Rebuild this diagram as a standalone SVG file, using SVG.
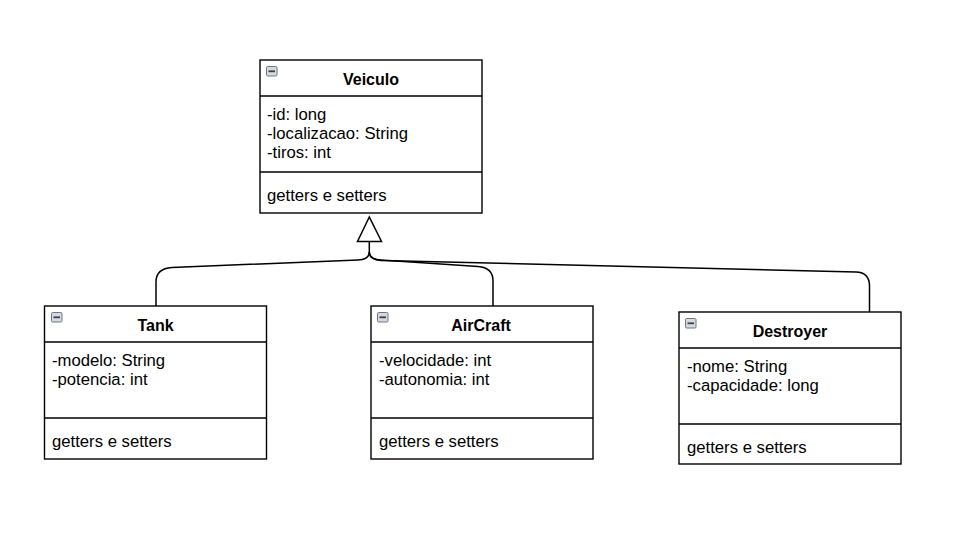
<svg xmlns="http://www.w3.org/2000/svg" width="960" height="538" viewBox="0 0 960 538">
<style>
.box{fill:#fff;stroke:#000;stroke-width:1.4}
.div{stroke:#000;stroke-width:1.4}
.title{font-family:"Liberation Sans",Arial,sans-serif;font-weight:bold;font-size:16px;fill:#000;text-anchor:middle}
.txt{font-family:"Liberation Sans",Arial,sans-serif;font-size:16.7px;fill:#000}
.icon{fill:#d6dae0;stroke:#6f7680;stroke-width:1}
.bar{stroke:#3c4148;stroke-width:1.8}
.conn{fill:none;stroke:#000;stroke-width:1.5}
</style>
<defs>
<g id="ico">
<rect class="icon" x="0.5" y="0.5" width="10.5" height="9.5" rx="1.2"/>
<line class="bar" x1="2.5" y1="5.3" x2="9" y2="5.3"/>
</g>
</defs>
<rect width="960" height="538" fill="#fff"/>
<g id="connectors">
<path class="conn" d="M369.3,241 V252 Q369.3,259.5 358,260 L172,267.5 Q156,268.5 156,282 V306"/>
<path class="conn" d="M369.3,252 Q369.3,259.5 381,260 L478,266.5 Q493,267.5 493,281 V306"/>
<path class="conn" d="M369.3,252 Q369.3,259.5 381,260.5 L856,272 Q869.5,272.5 869.5,286 V312"/>
<path class="conn" style="fill:#fff" d="M369.3,217 L357.5,241.5 L381.5,241.5 Z"/>
</g>
<g id="Veiculo">
<rect class="box" x="260" y="60" width="222" height="153"/>
<line class="div" x1="260" y1="96" x2="482" y2="96"/>
<line class="div" x1="260" y1="172" x2="482" y2="172"/>
<use href="#ico" x="266" y="66"/>
<text class="title" x="371" y="85">Veiculo</text>
<text class="txt" x="267" y="120">-id: long</text>
<text class="txt" x="267" y="139">-localizacao: String</text>
<text class="txt" x="267" y="158">-tiros: int</text>
<text class="txt" x="267" y="201">getters e setters</text>
</g>
<g id="Tank">
<rect class="box" x="44.5" y="306" width="222" height="153"/>
<line class="div" x1="44.5" y1="342" x2="266.5" y2="342"/>
<line class="div" x1="44.5" y1="418" x2="266.5" y2="418"/>
<use href="#ico" x="51" y="312"/>
<text class="title" x="155.5" y="331">Tank</text>
<text class="txt" x="52" y="366">-modelo: String</text>
<text class="txt" x="52" y="385">-potencia: int</text>
<text class="txt" x="52" y="447">getters e setters</text>
</g>
<g id="AirCraft">
<rect class="box" x="371" y="306" width="222" height="153"/>
<line class="div" x1="371" y1="342" x2="593" y2="342"/>
<line class="div" x1="371" y1="418" x2="593" y2="418"/>
<use href="#ico" x="377" y="312"/>
<text class="title" x="481" y="331">AirCraft</text>
<text class="txt" x="379" y="366">-velocidade: int</text>
<text class="txt" x="379" y="385">-autonomia: int</text>
<text class="txt" x="379" y="447">getters e setters</text>
</g>
<g id="Destroyer">
<rect class="box" x="679" y="312" width="222" height="152"/>
<line class="div" x1="679" y1="348" x2="901" y2="348"/>
<line class="div" x1="679" y1="424" x2="901" y2="424"/>
<use href="#ico" x="685" y="318"/>
<text class="title" x="790" y="337">Destroyer</text>
<text class="txt" x="687" y="372">-nome: String</text>
<text class="txt" x="687" y="391">-capacidade: long</text>
<text class="txt" x="687" y="453">getters e setters</text>
</g>
</svg>
